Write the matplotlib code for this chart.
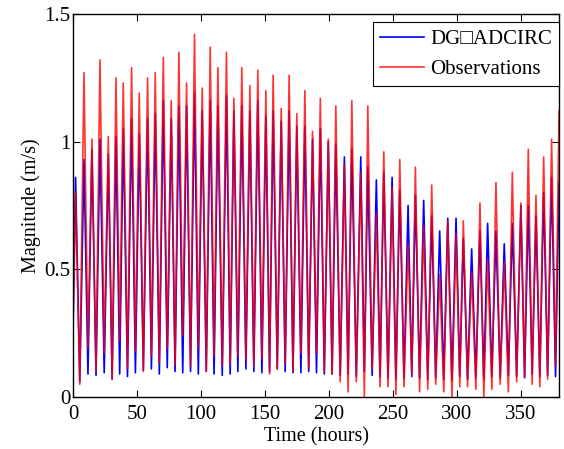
import matplotlib
matplotlib.use("Agg")
import matplotlib.pyplot as plt

plt.rcParams['font.family'] = ['Liberation Serif', 'DejaVu Serif']

# ---- values (hours, m/s) ----
t_peak = [2.0, 8.6, 14.8, 21.1, 27.6, 33.6, 39.3, 45.8, 51.8, 58.3,
          64.3, 70.6, 76.8, 82.8, 88.8, 95.0, 101.0, 107.3, 113.3, 120.0,
          125.8, 132.0, 138.3, 144.5, 150.8, 156.5, 162.8, 169.0, 175.0, 181.3,
          187.3, 193.4, 199.6, 205.5, 212.2, 218.0, 225.0, 230.5, 237.2, 243.0,
          249.5, 255.5, 262.0, 267.7, 274.2, 280.5, 286.7, 293.0, 299.5, 305.2,
          311.7, 318.2, 324.2, 330.7, 337.2, 343.5, 350.2, 356.0, 362.0, 368.0, 374.2]
t_trough = [5.3, 11.7, 18.0, 24.4, 30.6, 36.5, 42.6, 48.8, 55.0, 61.3,
            67.5, 73.7, 79.8, 85.8, 91.9, 98.0, 104.2, 110.3, 116.7, 122.9,
            128.9, 135.2, 141.4, 147.7, 153.7, 159.7, 165.9, 172.0, 178.2, 184.3,
            190.4, 196.5, 202.6, 208.9, 215.1, 221.5, 227.8, 233.9, 240.1, 246.3,
            252.5, 258.8, 264.9, 271.0, 277.4, 283.6, 289.9, 296.3, 302.4, 308.5,
            315.0, 321.2, 327.5, 334.0, 340.4, 346.9, 353.1, 359.0, 365.0, 371.1, 377.3]

dg_peak = [0.86, 0.93, 0.97, 1.01, 0.95, 1.02, 1.05, 1.09, 1.03, 1.09,
           1.11, 1.16, 1.09, 1.14, 1.14, 1.19, 1.12, 1.16, 1.14, 1.18,
           1.12, 1.14, 1.12, 1.16, 1.10, 1.12, 1.08, 1.12, 1.06, 1.06,
           1.01, 1.05, 1.00, 0.99, 0.94, 0.97, 0.94, 0.90, 0.85, 0.88,
           0.86, 0.81, 0.75, 0.79, 0.77, 0.71, 0.65, 0.70, 0.70, 0.62,
           0.58, 0.65, 0.68, 0.65, 0.60, 0.68, 0.75, 0.75, 0.71, 0.80, 0.86]
dg_trough = [0.06, 0.09, 0.085, 0.095, 0.07, 0.09, 0.08, 0.095, 0.105, 0.11,
             0.09, 0.115, 0.10, 0.095, 0.10, 0.09, 0.10, 0.09, 0.085, 0.09,
             0.10, 0.11, 0.10, 0.095, 0.10, 0.11, 0.10, 0.095, 0.095, 0.10,
             0.095, 0.09, 0.09, 0.085, 0.09, 0.08, 0.10, 0.085, 0.08, 0.075,
             0.07, 0.075, 0.08, 0.075, 0.07, 0.075, 0.07, 0.065, 0.08, 0.07,
             0.075, 0.07, 0.08, 0.075, 0.085, 0.08, 0.075, 0.09, 0.08, 0.085, 0.08]

obs_peak = [0.80, 1.27, 1.01, 1.32, 1.02, 1.25, 1.23, 1.29, 1.19, 1.25,
            1.27, 1.33, 1.16, 1.35, 1.23, 1.42, 1.21, 1.37, 1.29, 1.35,
            1.17, 1.29, 1.22, 1.28, 1.20, 1.26, 1.13, 1.26, 1.11, 1.20,
            1.04, 1.17, 1.01, 1.14, 0.91, 1.16, 0.88, 1.14, 0.72, 0.96,
            0.82, 0.93, 0.60, 0.90, 0.67, 0.83, 0.48, 0.69, 0.64, 0.69,
            0.49, 0.76, 0.54, 0.84, 0.53, 0.88, 0.76, 0.97, 0.79, 0.94, 1.01]
obs_trough = [0.05, 0.19, 0.10, 0.17, 0.07, 0.22, 0.11, 0.18, 0.10, 0.16,
              0.13, 0.19, 0.125, 0.24, 0.12, 0.19, 0.10, 0.16, 0.125, 0.13,
              0.16, 0.145, 0.12, 0.15, 0.09, 0.11, 0.13, 0.10, 0.17, 0.11,
              0.17, 0.10, 0.09, 0.06, 0.02, 0.06, 0.00, 0.11, 0.04, 0.04,
              0.01, 0.04, 0.09, 0.02, 0.03, 0.05, 0.02, 0.00, 0.04, 0.04,
              0.03, 0.00, 0.03, 0.05, 0.02, 0.06, 0.08, 0.05, 0.04, 0.07, 0.12]

t_start, t_end = 0.0, 380.0
dg_start, dg_end = 0.28, 0.84
obs_start, obs_end = 0.25, 1.12


def series(start, peaks, troughs, end):
    t = [t_start]
    v = [start]
    for tp, p, tt, q in zip(t_peak, peaks, t_trough, troughs):
        t += [tp, tt]
        v += [p, q]
    t.append(t_end)
    v.append(end)
    return t, v


t_dg, v_dg = series(dg_start, dg_peak, dg_trough, dg_end)
t_obs, v_obs = series(obs_start, obs_peak, obs_trough, obs_end)

fig = plt.figure(figsize=(5.64, 4.49), dpi=100)
ax = fig.add_axes([73 / 564, 52 / 449, 486 / 564, 383 / 449])

ax.plot(t_dg, v_dg, color="#0000ff", lw=1.2, label="DG\u25a1ADCIRC")
ax.plot(t_obs, v_obs, color="#ff0000", lw=1.2, alpha=0.8, label="Observations")

ax.set_xlim(0, 380)
ax.set_ylim(0, 1.5)
ax.set_xticks([0, 50, 100, 150, 200, 250, 300, 350])
ax.set_yticks([0, 0.5, 1, 1.5])
ax.set_yticklabels(["0", "0.5", "1", "1.5"])
ax.tick_params(direction="in", top=True, right=True, length=5, width=0.8,
               labelsize=15)
ax.tick_params(axis="x", pad=6)
ax.tick_params(axis="y", pad=2)
for s in ax.spines.values():
    s.set_linewidth(1.0)

ax.set_xlabel("Time (hours)", fontsize=14.5, labelpad=2)
ax.set_ylabel("Magnitude (m/s)", fontsize=14.5, labelpad=2)

leg = ax.legend(loc="upper right", bbox_to_anchor=(1.0, 1 - 8 / 383),
                fontsize=15, frameon=True, fancybox=False, framealpha=1,
                edgecolor="black", handlelength=2.1, borderpad=0.35,
                labelspacing=0.5, handletextpad=0.3, borderaxespad=0)
leg.get_frame().set_linewidth(0.8)

fig.savefig("out.png", dpi=100)
